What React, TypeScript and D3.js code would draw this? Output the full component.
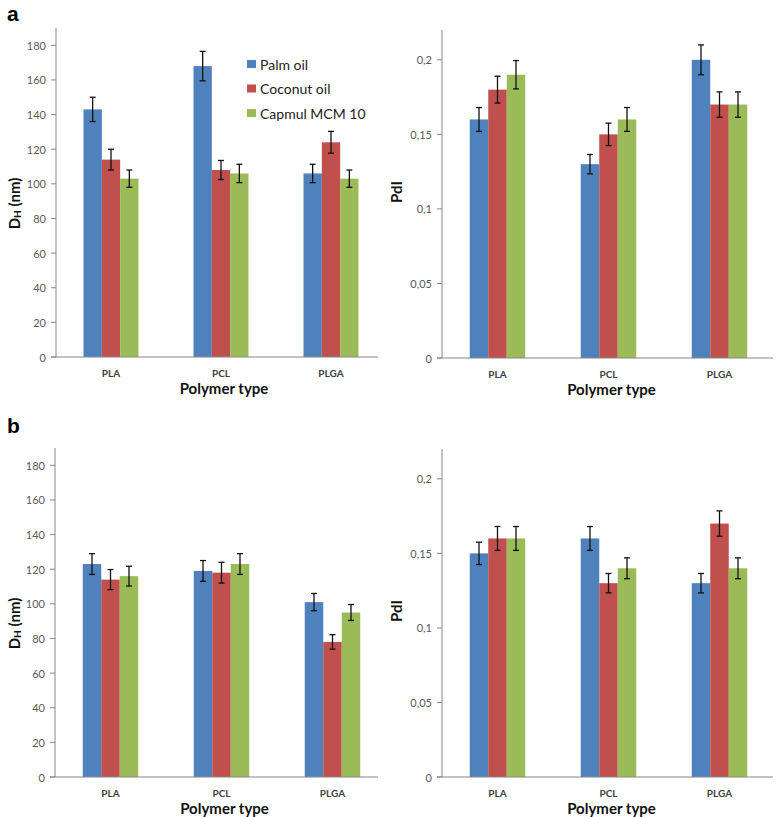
import React from "react";
import * as d3 from "d3";

const categories = ["PLA", "PCL", "PLGA"];
const series = ["Palm oil", "Coconut oil", "Capmul MCM 10"];
const colors = ["#4F81BD", "#C0504D", "#9BBB59"];

// Panel a: D_H (nm)
const dhA = [
  [143, 114, 103],
  [168, 108, 106],
  [106, 124, 103],
];
const dhAErr = [
  [7, 6, 5],
  [8.5, 5.5, 5.3],
  [5.3, 6.3, 5],
];
// Panel a: PdI
const pdiA = [
  [0.16, 0.18, 0.19],
  [0.13, 0.15, 0.16],
  [0.2, 0.17, 0.17],
];
const pdiAErr = [
  [0.008, 0.009, 0.0095],
  [0.0065, 0.0075, 0.008],
  [0.01, 0.0085, 0.0085],
];
// Panel b: D_H (nm)
const dhB = [
  [123, 114, 116],
  [119, 118, 123],
  [101, 78, 95],
];
const dhBErr = [
  [6, 5.8, 5.7],
  [6, 6, 6],
  [5, 4.2, 4.6],
];
// Panel b: PdI
const pdiB = [
  [0.15, 0.16, 0.16],
  [0.16, 0.13, 0.14],
  [0.13, 0.17, 0.14],
];
const pdiBErr = [
  [0.0075, 0.008, 0.008],
  [0.008, 0.0065, 0.007],
  [0.0065, 0.0085, 0.007],
];

const dhTicks = [0, 20, 40, 60, 80, 100, 120, 140, 160, 180];
const pdiTicks = [0, 0.05, 0.1, 0.15, 0.2];

const FONT = "Lato, 'Open Sans', sans-serif";
const AXIS = "#868686";
const TICKTXT = "#595959";

type PanelProps = {
  x0: number;
  width: number;
  lineEnd: number;
  top: number;
  bottom: number;
  yMax: number;
  ticks: number[];
  fmt: (v: number) => string;
  values: number[][];
  errs: number[][];
  kind: "dh" | "pdi";
  labelX: number;
};

function Panel(p: PanelProps) {
  const y = d3.scaleLinear().domain([0, p.yMax]).range([p.bottom, p.top]);
  const xg = d3.scaleBand<string>().domain(categories).range([p.x0, p.x0 + p.width]).padding(0);
  const step = xg.bandwidth();
  const xs = d3
    .scaleBand<string>()
    .domain(series)
    .range([step * 0.25, step * 0.75])
    .padding(0);
  const bw = xs.bandwidth();
  const midY = (p.top + p.bottom) / 2 + 8;
  const midX = p.x0 + p.width / 2 + 3;
  return (
    <g>
      {/* bars */}
      {categories.map((c, ci) =>
        series.map((s, si) => {
          const v = p.values[ci][si];
          const bx = (xg(c) as number) + (xs(s) as number);
          return (
            <rect
              key={c + s}
              x={bx}
              y={y(v)}
              width={bw}
              height={p.bottom - y(v)}
              fill={colors[si]}
            />
          );
        })
      )}
      {/* error bars */}
      {categories.map((c, ci) =>
        series.map((s, si) => {
          const v = p.values[ci][si];
          const e = p.errs[ci][si];
          const cx = (xg(c) as number) + (xs(s) as number) + bw / 2;
          const y1 = y(v + e);
          const y2 = y(v - e);
          return (
            <g key={"e" + c + s} stroke="#111" strokeWidth={1.3}>
              <line x1={cx} x2={cx} y1={y1} y2={y2} />
              <line x1={cx - 3} x2={cx + 3} y1={y1} y2={y1} />
              <line x1={cx - 3} x2={cx + 3} y1={y2} y2={y2} />
            </g>
          );
        })
      )}
      {/* axes */}
      <line x1={p.x0} x2={p.x0} y1={p.top} y2={p.bottom} stroke={AXIS} strokeWidth={1} />
      <line x1={p.x0 - 5} x2={p.lineEnd} y1={p.bottom} y2={p.bottom} stroke={AXIS} strokeWidth={1} />
      {p.ticks.map((t) => (
        <g key={"t" + t}>
          <line x1={p.x0 - 5} x2={p.x0} y1={y(t)} y2={y(t)} stroke={AXIS} strokeWidth={1} />
          <text
            x={p.x0 - 10}
            y={y(t)}
            textAnchor="end"
            dominantBaseline="central"
            fontSize={11}
            fill={TICKTXT}
            fontFamily={FONT}
          >
            {p.fmt(t)}
          </text>
        </g>
      ))}
      {categories.map((c) => (
        <text
          key={"c" + c}
          x={(xg(c) as number) + step / 2}
          y={p.bottom + 16}
          textAnchor="middle"
          dominantBaseline="central"
          fontSize={10}
          fontWeight="bold"
          fill="#404040"
          fontFamily={FONT}
        >
          {c}
        </text>
      ))}
      <text
        x={midX}
        y={p.bottom + 31}
        textAnchor="middle"
        dominantBaseline="central"
        fontSize={15}
        fontWeight="bold"
        fill="#111"
        fontFamily={FONT}
      >
        Polymer type
      </text>
      <text
        transform={`translate(${p.labelX},${p.kind === "dh" ? midY + 3 : midY - 10}) rotate(-90)`}
        textAnchor="middle"
        dominantBaseline="central"
        fontSize={15}
        fontWeight="bold"
        fill="#111"
        fontFamily={FONT}
      >
        {p.kind === "dh" ? (
          <>
            D<tspan fontSize={10} dy={3}>H</tspan>
            <tspan dy={-3}> (nm)</tspan>
          </>
        ) : (
          "PdI"
        )}
      </text>
    </g>
  );
}

const fmtDH = (v: number) => String(v);
const fmtPdI = (v: number) => String(v).replace(".", ",");

export default function App() {
  return (
    <svg
      width={777}
      height={817}
      style={{ position: "absolute", left: 0, top: 0, background: "#fff" }}
    >
      <rect width={777} height={817} fill="#fff" />
      <text x={7} y={21} fontSize={21} fontWeight="bold" fontFamily="Arial, 'Liberation Sans', sans-serif">
        a
      </text>
      <text x={7} y={433} fontSize={21} fontWeight="bold" fontFamily="Arial, 'Liberation Sans', sans-serif">
        b
      </text>
      <Panel
        x0={56}
        width={330}
        lineEnd={378}
        top={28}
        bottom={357}
        yMax={190}
        ticks={dhTicks}
        fmt={fmtDH}
        values={dhA}
        errs={dhAErr}
        kind="dh"
        labelX={14}
      />
      <Panel
        x0={442}
        width={333}
        lineEnd={773}
        top={30}
        bottom={358}
        yMax={0.22}
        ticks={pdiTicks}
        fmt={fmtPdI}
        values={pdiA}
        errs={pdiAErr}
        kind="pdi"
        labelX={396}
      />
      <Panel
        x0={55}
        width={333}
        lineEnd={378}
        top={448}
        bottom={777}
        yMax={190}
        ticks={dhTicks}
        fmt={fmtDH}
        values={dhB}
        errs={dhBErr}
        kind="dh"
        labelX={14}
      />
      <Panel
        x0={442}
        width={333}
        lineEnd={773}
        top={449}
        bottom={777}
        yMax={0.22}
        ticks={pdiTicks}
        fmt={fmtPdI}
        values={pdiB}
        errs={pdiBErr}
        kind="pdi"
        labelX={396}
      />
      {/* legend */}
      {series.map((s, i) => (
        <g key={"l" + s}>
          <rect x={247} y={60 + i * 24.5} width={9} height={8} fill={colors[i]} />
          <text
            x={260}
            y={64 + i * 24.5}
            dominantBaseline="central"
            fontSize={14}
            fill="#222"
            fontFamily={FONT}
          >
            {s}
          </text>
        </g>
      ))}
    </svg>
  );
}
